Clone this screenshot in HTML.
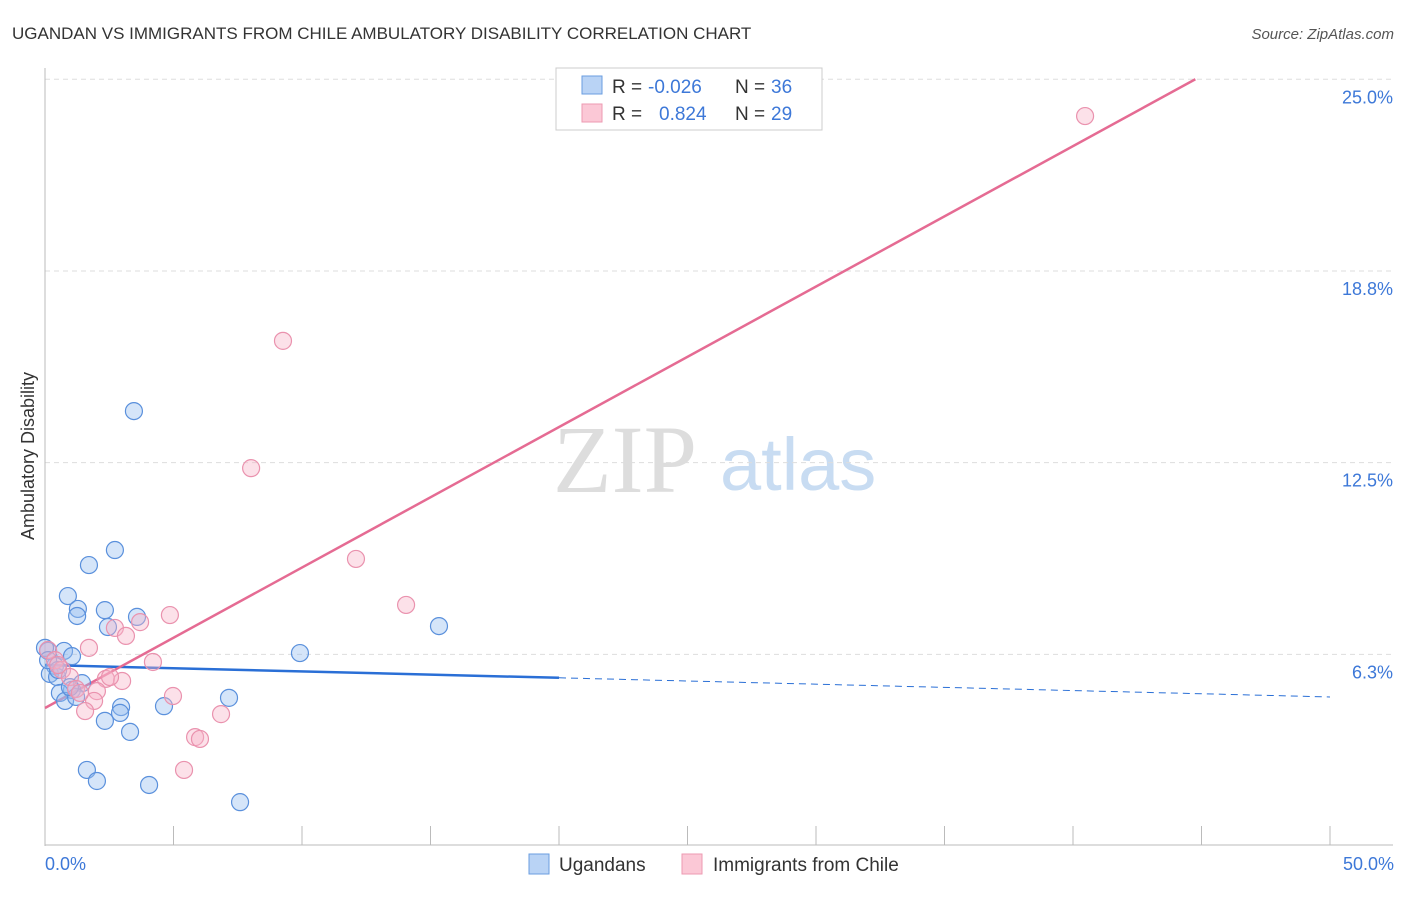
<!DOCTYPE html>
<html><head><meta charset="utf-8"><style>
body{margin:0;background:#fff;font-family:"Liberation Sans",sans-serif}
</style></head><body>
<svg width="1406" height="892" xmlns="http://www.w3.org/2000/svg" font-family="Liberation Sans, sans-serif">
<text x="12" y="39" font-size="17" fill="#333">UGANDAN VS IMMIGRANTS FROM CHILE AMBULATORY DISABILITY CORRELATION CHART</text>
<text x="1394" y="39" font-size="15" fill="#555" text-anchor="end" font-style="italic">Source: ZipAtlas.com</text>
<text x="553" y="492" font-size="96" fill="#ddd" font-family="Liberation Serif, serif">ZIP</text>
<text x="720" y="490" font-size="74" fill="#c8dcf2">atlas</text>
<g id="grid"></g>
<line x1="45" y1="68" x2="45" y2="846" stroke="#bbb"/>
<line x1="45" y1="845" x2="1393" y2="845" stroke="#bbb"/>
<g id="xticks"></g>
<text transform="translate(34,456) rotate(-90)" font-size="18" fill="#333" text-anchor="middle">Ambulatory Disability</text>
<text x="45" y="870" font-size="18" fill="#3d78d8">0.0%</text>
<text x="1394" y="870" font-size="18" fill="#3d78d8" text-anchor="end">50.0%</text>
<g id="lines"></g>
<g id="points"></g>
<g>
<rect x="556" y="68" width="266" height="62" fill="#fff" stroke="#ccc"/>
<rect x="582" y="76" width="20" height="18" fill="#b9d3f5" stroke="#6a9ee0"/>
<rect x="582" y="104" width="20" height="18" fill="#fbc8d6" stroke="#ec9ab2"/>
<text x="612" y="93" font-size="19" fill="#333">R =</text>
<text x="648" y="93" font-size="19" fill="#3d78d8">-0.026</text>
<text x="735" y="93" font-size="19" fill="#333">N =</text>
<text x="771" y="93" font-size="19" fill="#3d78d8">36</text>
<text x="612" y="120" font-size="19" fill="#333">R =</text>
<text x="659" y="120" font-size="19" fill="#3d78d8">0.824</text>
<text x="735" y="120" font-size="19" fill="#333">N =</text>
<text x="771" y="120" font-size="19" fill="#3d78d8">29</text>
</g>
<g>
<rect x="529" y="854" width="20" height="20" fill="#b9d3f5" stroke="#6a9ee0"/>
<text x="559" y="871" font-size="19" fill="#333">Ugandans</text>
<rect x="682" y="854" width="20" height="20" fill="#fbc8d6" stroke="#ec9ab2"/>
<text x="713" y="871" font-size="19" fill="#333">Immigrants from Chile</text>
</g>
</svg>
<script>
const yTicks=[25,18.75,12.5,6.25];
const yTickLabels=["25.0%","18.8%","12.5%","6.3%"];
const xTicks=[0,5,10,15,20,25,30,35,40,45,50];
const blueX=[3.46,2.72,1.71,0.89,2.33,1.28,1.25,3.58,2.45,15.33,9.92,0.12,0.74,1.05,0.39,0.19,0.47,1.44,1.05,0.58,0.78,1.21,2.96,4.63,7.16,2.33,2.92,3.31,1.63,2.02,4.05,7.59,0.0,0.12,0.51,0.97];
const blueY=[14.18,9.65,9.16,8.15,7.69,7.73,7.50,7.47,7.14,7.17,6.29,6.36,6.36,6.19,5.87,5.61,5.51,5.31,5.09,4.99,4.73,4.86,4.53,4.56,4.83,4.08,4.34,3.72,2.48,2.12,1.99,1.43,6.46,6.06,5.74,5.18];
const pinkX=[40.47,9.26,8.02,12.10,14.05,4.86,3.70,2.72,3.15,1.71,4.20,0.12,0.39,0.66,0.97,2.37,3.00,2.53,2.02,1.21,1.91,1.56,4.98,6.85,5.84,6.03,5.41,0.51,1.36];
const pinkY=[23.80,16.47,12.32,9.36,7.86,7.53,7.30,7.11,6.85,6.46,6.00,6.39,6.06,5.74,5.51,5.45,5.38,5.51,5.05,5.12,4.73,4.40,4.89,4.30,3.55,3.49,2.48,5.90,4.99];
const blueTrend=[5.9,-0.0208];
const pinkTrend=[4.5,0.458];
const NS="http://www.w3.org/2000/svg";
const sx=v=>45+v*25.7, sy=v=>846-v*30.67;
function mk(t,a,p){const e=document.createElementNS(NS,t);for(const k in a)e.setAttribute(k,a[k]);p.appendChild(e);return e;}
const grid=document.getElementById('grid');
yTicks.forEach((v,i)=>{
 const l=mk('line',{x1:45,x2:1393,y1:sy(v),y2:sy(v),stroke:'#ddd','stroke-dasharray':'5,4'},grid);
 
 
 const t=mk('text',{x:1393,y:sy(v)+24,'font-size':18,fill:'#3d78d8','text-anchor':'end'},grid);
 t.textContent=yTickLabels[i];
 
 
});
const xt=document.getElementById('xticks');
xTicks.forEach(v=>{
 const l=mk('line',{x1:sx(v),x2:sx(v),y1:826,y2:845,stroke:'#bbb'},xt);
 
 
});
const lines=document.getElementById('lines');
let l=mk('line',{x1:sx(0),y1:sy(blueTrend[0]),x2:sx(20),y2:sy(blueTrend[0]+blueTrend[1]*20),stroke:'#2a6fd6','stroke-width':2.5},lines);


l=mk('line',{x1:sx(20),y1:sy(blueTrend[0]+blueTrend[1]*20),x2:sx(50),y2:sy(blueTrend[0]+blueTrend[1]*50),stroke:'#2a6fd6','stroke-width':1,'stroke-dasharray':'7,5'},lines);


const xe=(25-pinkTrend[0])/pinkTrend[1];
l=mk('line',{x1:sx(0),y1:sy(pinkTrend[0]),x2:sx(xe),y2:sy(25),stroke:'#e56b93','stroke-width':2.5},lines);


const pts=document.getElementById('points');
blueX.forEach((x,i)=>{
 const c=mk('circle',{cx:sx(x),cy:sy(blueY[i]),r:8.5,fill:'rgba(150,190,240,0.4)',stroke:'#5a90dc','stroke-width':1.2},pts);
 
 
});
pinkX.forEach((x,i)=>{
 const c=mk('circle',{cx:sx(x),cy:sy(pinkY[i]),r:8.5,fill:'rgba(248,180,200,0.4)',stroke:'#ea92ae','stroke-width':1.2},pts);
 
 
});
</script>
</body></html>
